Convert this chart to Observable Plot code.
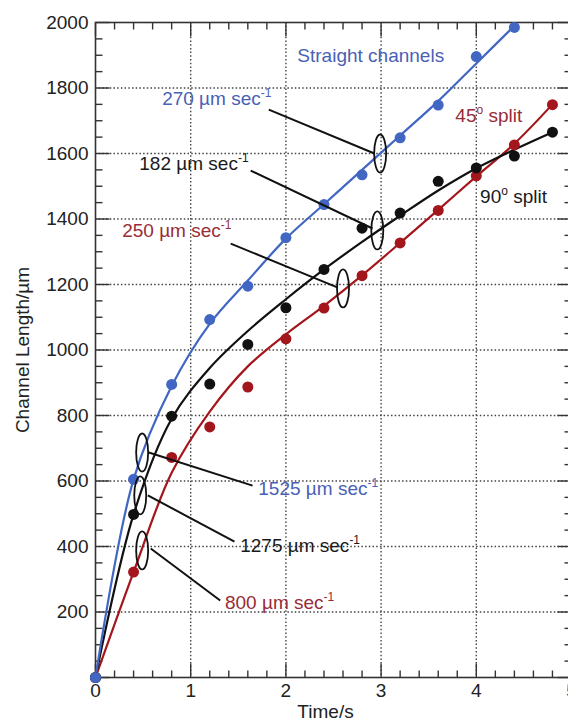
<!DOCTYPE html>
<html><head><meta charset="utf-8">
<script src="https://cdn.jsdelivr.net/npm/d3@7"></script>
<script src="https://cdn.jsdelivr.net/npm/@observablehq/plot@0.6"></script>
<style>body{margin:0;background:#fff;}</style>
</head><body><div id="chart"></div>
<script>
// ---- data ----
const times = [0, 0.4, 0.8, 1.2, 1.6, 2.0, 2.4, 2.8, 3.2, 3.6, 4.0, 4.4, 4.8];
const straightPts = [0, 605, 895, 1093, 1195, 1343, 1444, 1535, 1648, 1748, 1896, 1985];
const split90Pts  = [0, 498, 798, 896, 1017, 1129, 1246, 1372, 1418, 1515, 1556, 1592, 1665];
const split45Pts  = [0, 322, 672, 765, 887, 1034, 1128, 1227, 1327, 1426, 1532, 1626, 1749];

// fitted curves
const straightFit = [0, 605, 890, 1080, 1212, 1340, 1445, 1550, 1655, 1760, 1875, 1990];
const split90Fit  = [0, 498, 790, 945, 1058, 1155, 1246, 1330, 1410, 1487, 1555, 1612, 1665];
const split45Fit  = [0, 322, 625, 812, 950, 1048, 1135, 1228, 1327, 1428, 1530, 1630, 1750];

const xTickLabels = [0, 1, 2, 3, 4, 5];
const yTickLabels = [200, 400, 600, 800, 1000, 1200, 1400, 1600, 1800, 2000];

// annotations: text, anchor (time, length), series
const noteText   = ["Straight channels", "270 µm sec{-1}", "182 µm sec{-1}", "250 µm sec{-1}", "45{o} split", "90{o} split", "1525 µm sec{-1}", "1275 µm sec{-1}", "800 µm sec{-1}"];
const noteT      = [2.12, 0.70, 0.46, 0.28, 3.78, 4.04, 1.71, 1.52, 1.36];
const noteL      = [1899, 1768, 1569, 1365, 1716, 1466, 577, 403, 229];
const noteSeries = ["straight", "straight", "split90", "split45", "split45", "split90", "straight", "split90", "split45"];

// velocity markers: ellipse centre and leader line (from -> to)
const markT  = [2.99, 2.96, 2.60, 0.49, 0.47, 0.49];
const markL  = [1600, 1365, 1188, 687, 556, 388];
const leadT1 = [1.82, 1.63, 1.42, 0.56, 0.55, 0.58];
const leadL1 = [1734, 1548, 1325, 687, 556, 394];
const leadT2 = [2.93, 2.91, 2.54, 1.65, 1.46, 1.31];
const leadL2 = [1600, 1371, 1191, 586, 415, 235];

// ---- build tables ----
const colors = {straight: "#4267c3", split90: "#111111", split45: "#a3161c"};
const textColors = {straight: "#4a5fb6", split90: "#1a1a1a", split45: "#982c38"};
const toRows = (vals, series) => vals.map((v, i) => ({t: times[i], L: v, series}));
const pts = [...toRows(split45Pts, "split45"), ...toRows(split90Pts, "split90"), ...toRows(straightPts, "straight")];
const fits = [...toRows(split45Fit, "split45"), ...toRows(split90Fit, "split90"), ...toRows(straightFit, "straight")];
const notes = noteText.map((text, i) => ({text, t: noteT[i], L: noteL[i], series: noteSeries[i]}));
const marks = markT.map((t, i) => ({t, L: markL[i], t1: leadT1[i], L1: leadL1[i], t2: leadT2[i], L2: leadL2[i]}));

const xMajor = d3.range(0, 5.001, 1);
const xMinor = d3.range(0, 5.001, 0.2).filter(v => Math.abs(v - Math.round(v)) > 1e-6);
const yMajor = d3.range(0, 2001, 200);
const yMinor = d3.range(0, 2001, 50).filter(v => v % 200 !== 0);

// custom symbols
const tickSym = (dx, dy) => ({draw(ctx) { ctx.moveTo(0, 0); ctx.lineTo(dx, dy); }});
const ellipseSym = (rx, ry) => ({draw(ctx) {
  const k = 0.5523;
  ctx.moveTo(0, -ry);
  ctx.bezierCurveTo(k * rx, -ry, rx, -k * ry, rx, 0);
  ctx.bezierCurveTo(rx, k * ry, k * rx, ry, 0, ry);
  ctx.bezierCurveTo(-k * rx, ry, -rx, k * ry, -rx, 0);
  ctx.bezierCurveTo(-rx, -k * ry, -k * rx, -ry, 0, -ry);
  ctx.closePath();
}});

const axisColor = "#333";
const tickStyle = {fill: "none", stroke: axisColor, strokeWidth: 1.4};
const gridStyle = {stroke: "#444", strokeWidth: 1.4, strokeDasharray: "1.5 2.2"};

const chart = Plot.plot({
  width: 568, height: 727,
  marginLeft: 95, marginRight: -3, marginTop: 22, marginBottom: 50,
  style: {fontFamily: "'Liberation Sans', Arial, Helvetica, sans-serif", fontSize: "19px", background: "#fff"},
  x: {domain: [0, 5]},
  y: {domain: [0, 2000]},
  marks: [
    Plot.ruleX([1, 2, 3, 4], gridStyle),
    Plot.ruleY(yTickLabels.filter(v => v < 2000), gridStyle),
    Plot.frame({stroke: axisColor, strokeWidth: 1.6}),
    // inward ticks
    Plot.dot(xMinor, {x: d => d, frameAnchor: "bottom", symbol: tickSym(0, -7), ...tickStyle}),
    Plot.dot(xMajor, {x: d => d, frameAnchor: "bottom", symbol: tickSym(0, -14), ...tickStyle}),
    Plot.dot(xMinor, {x: d => d, frameAnchor: "top", symbol: tickSym(0, 7), ...tickStyle}),
    Plot.dot(xMajor, {x: d => d, frameAnchor: "top", symbol: tickSym(0, 14), ...tickStyle}),
    Plot.dot(yMinor, {y: d => d, frameAnchor: "left", symbol: tickSym(7, 0), ...tickStyle}),
    Plot.dot(yMajor, {y: d => d, frameAnchor: "left", symbol: tickSym(14, 0), ...tickStyle}),
    Plot.dot(yMinor, {y: d => d, frameAnchor: "right", symbol: tickSym(-7, 0), ...tickStyle}),
    Plot.dot(yMajor, {y: d => d, frameAnchor: "right", symbol: tickSym(-14, 0), ...tickStyle}),
    // tick labels
    Plot.axisX({ticks: xTickLabels, tickSize: 0, tickPadding: 6, tickFormat: d3.format("d"), fontSize: 19, fill: "#222", label: null}),
    Plot.axisY({ticks: yTickLabels, tickSize: 0, tickPadding: 7, tickFormat: d3.format("d"), fontSize: 19, fill: "#222", label: null}),
    // axis titles
    Plot.text(["Channel Length/µm"], {frameAnchor: "left", dx: -73, rotate: -90, textAnchor: "middle", fontSize: 19, fill: "#222"}),
    Plot.text(["Time/s"], {frameAnchor: "bottom", dy: 40, dx: -8, textAnchor: "middle", fontSize: 19, fill: "#222"}),
    // fitted curves
    Plot.line(fits, {x: "t", y: "L", z: "series", stroke: d => colors[d.series], curve: "catmull-rom", strokeWidth: 2.2}),
    // data points
    Plot.dot(pts, {x: "t", y: "L", fill: d => colors[d.series], r: 5.5}),
    // leader lines and ellipses
    Plot.link(marks, {x1: "t1", y1: "L1", x2: "t2", y2: "L2", stroke: "#111", strokeWidth: 2}),
    Plot.dot(marks, {x: "t", y: "L", symbol: ellipseSym(6, 19), fill: "none", stroke: "#111", strokeWidth: 1.8}),
    // annotation text
    Plot.text(notes, {x: "t", y: "L", text: "text", fill: d => textColors[d.series], textAnchor: "start", fontSize: 19})
  ]
});

// superscripts: {…} → raised tspan
const ns = "http://www.w3.org/2000/svg";
chart.querySelectorAll("text").forEach(t => {
  const s = t.textContent;
  if (!s.includes("{")) return;
  t.textContent = "";
  let raised = false;
  s.split(/(\{[^}]*\})/).forEach(p => {
    if (!p) return;
    const ts = document.createElementNS(ns, "tspan");
    if (p.startsWith("{")) {
      ts.textContent = p.slice(1, -1);
      ts.setAttribute("font-size", "12");
      ts.setAttribute("dy", "-8");
      raised = true;
    } else {
      ts.textContent = p;
      if (raised) { ts.setAttribute("dy", "8"); raised = false; }
    }
    t.appendChild(ts);
  });
});

document.getElementById("chart").appendChild(chart);
</script>
</body></html>
